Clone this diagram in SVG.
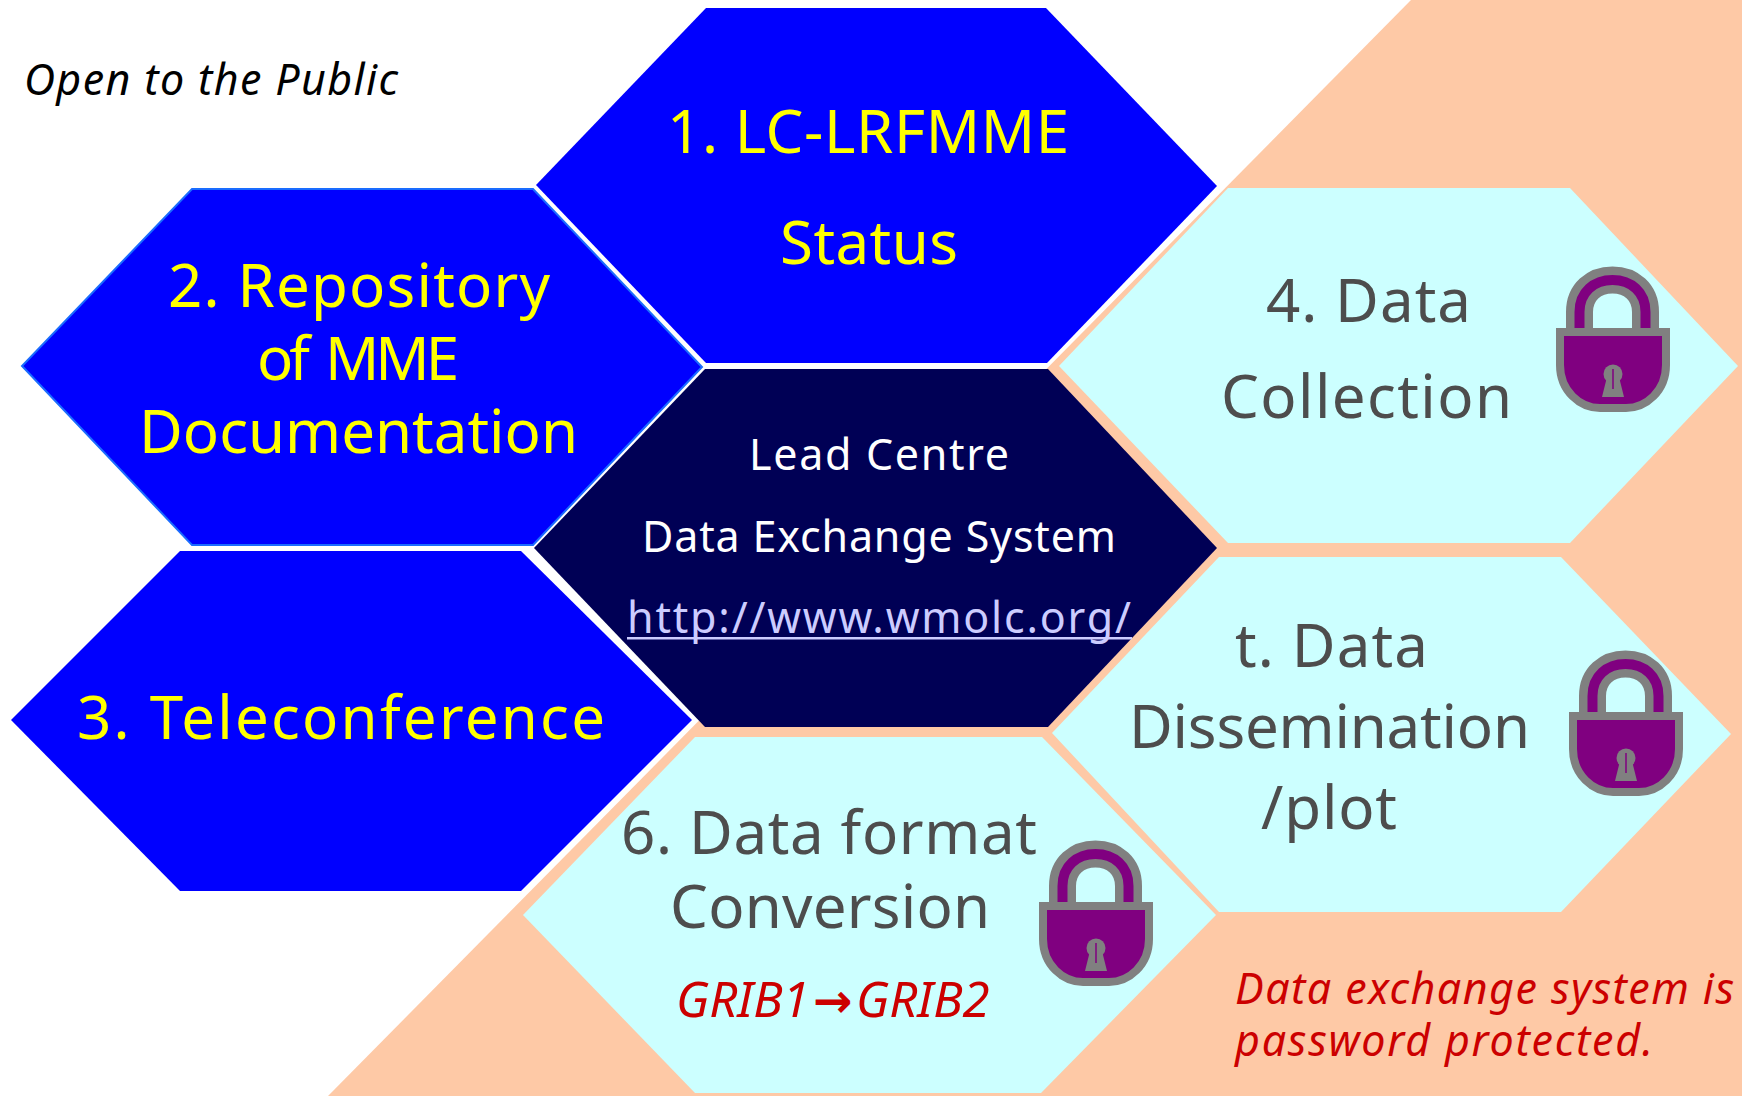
<svg xmlns="http://www.w3.org/2000/svg" width="1742" height="1096" viewBox="0 0 1742 1096">
<style>
text{font-family:"Noto Sans","Liberation Sans",sans-serif}
.blue{fill:#0000ff}
.edge{stroke:#1a6cff;stroke-width:2}
.cyan{fill:#ccffff}
.y{fill:#ffff00;font-size:60px}
.g{fill:#4d4d4d;font-size:60px}
.w{fill:#ffffff;font-size:43px}
.r{fill:#cc0000;font-style:italic}
</style>
<defs>
<g id="lock">
<path d="M23.5 61V45C23.5 25 38 13 56.5 13C75 13 89.5 25 89.5 45V61" fill="none" stroke="#808080" stroke-width="27"/>
<path d="M23.5 61V45C23.5 25 38 13 56.5 13C75 13 89.5 25 89.5 45V61" fill="none" stroke="#800080" stroke-width="10"/>
<path d="M4 65H110V98C110 124 90 141 70 141H44C24 141 4 124 4 98Z" fill="#800080" stroke="#808080" stroke-width="8"/>
<circle cx="57" cy="107" r="9.5" fill="#808080"/>
<path d="M51 110H63L68 130H46Z" fill="#808080"/>
<path d="M57 102V122" stroke="#800080" stroke-width="1.5"/>
</g>
</defs>
<rect width="1742" height="1096" fill="#ffffff"/>
<polygon id="protected-zone" points="1411,0 1742,0 1742,1096 328,1096" fill="#fec9a6"/>
<text x="24" y="95" font-size="43" font-style="italic" fill="#000000" textLength="374">Open to the Public</text>

<g id="node-1">
<polygon class="blue" points="706,8 1046,8 1217,186 1047,363 706,363 536,185"/>
<text class="y" x="667" y="153" textLength="402">1. LC-LRFMME</text>
<text class="y" x="780" y="264" textLength="178">Status</text>
</g>
<g id="node-2">
<polygon class="blue edge" points="192,189 533,189 702,367 533,545 192,545 22,366"/>
<text class="y" x="168" y="307" textLength="382">2. Repository</text>
<text class="y" x="257" y="380" textLength="202" word-spacing="8">of MME</text>
<text class="y" x="139" y="453" textLength="439">Documentation</text>
</g>
<g id="node-3">
<polygon class="blue" points="180,551 521,551 692,720 521,891 180,891 11,720"/>
<text class="y" x="77" y="739" textLength="528">3. Teleconference</text>
</g>
<g id="node-center">
<polygon fill="#000055" points="705,369 1048,369 1217,548 1048,727 705,727 534,548"/>
<text class="w" x="749" y="470" textLength="260">Lead Centre</text>
<text class="w" x="642" y="552" textLength="474">Data Exchange System</text>
<text class="w" x="627" y="633" textLength="504" style="fill:#ccccff">http://www.wmolc.org/</text>
<rect x="627" y="637" width="505" height="2.5" fill="#ccccff"/>
</g>
<g id="node-4">
<polygon class="cyan" points="1228,188 1570,188 1738,366 1570,543 1228,543 1059,366"/>
<text class="g" x="1266" y="322" textLength="205">4. Data</text>
<text class="g" x="1221" y="418" textLength="291">Collection</text>
<use href="#lock" x="1556" y="267"/>
</g>
<g id="node-5">
<polygon class="cyan" points="1219,557 1561,557 1731,734 1561,912 1219,912 1052,733"/>
<text class="g" x="1235" y="667" textLength="193">t. Data</text>
<text class="g" x="1129" y="748" textLength="401">Dissemination</text>
<text class="g" x="1261" y="829" textLength="136">/plot</text>
<use href="#lock" x="1569" y="651"/>
</g>
<g id="node-6">
<polygon class="cyan" points="695,737 1042,737 1216,915 1041,1093 695,1093 523,915"/>
<text class="g" x="621" y="854" textLength="416">6. Data format</text>
<text class="g" x="670" y="928" textLength="320">Conversion</text>
<text class="r" y="1017" font-size="49"><tspan x="676">GRIB1</tspan><tspan x="813" font-size="47" font-family="DejaVu Sans" font-weight="bold" font-style="normal">→</tspan><tspan x="856">GRIB2</tspan></text>
<use href="#lock" x="1039" y="841"/>
</g>
<text class="r" x="1235" y="1004" font-size="43" textLength="499">Data exchange system is</text>
<text class="r" x="1235" y="1056" font-size="43" textLength="418">password protected.</text>
</svg>
